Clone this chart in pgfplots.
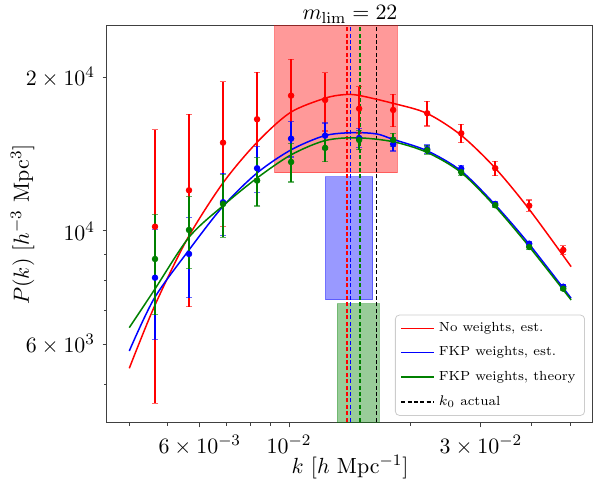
\documentclass[border=0pt,11pt]{standalone}
\usepackage{pgfplots}
\usepackage{pgfplotstable}
\pgfplotsset{compat=1.18}
\definecolor{mplgreen}{RGB}{0,128,0}

% k, P(k), 1-sigma
\pgfplotstableread{
k P err
0.004642 10196 5600
0.005640 12012 4900
0.006853 14888 4700
0.008328 16541 3905
0.010118 18403 3270
0.012294 18048 2360
0.014938 17352 1800
0.018152 17251 1250
0.022056 16995 950
0.026800 15528 645
0.032563 13268 430
0.039567 11207 290
0.048077 9179 170
}\nowts

\pgfplotstableread{
k P err
0.004642 8100 1965
0.005640 9016 1615
0.006853 11383 1595
0.008328 13266 1360
0.010118 15158 1200
0.012294 15365 905
0.014938 15205 640
0.018152 14785 450
0.022056 14455 280
0.026800 13243 200
0.032563 11294 130
0.039567 9443 100
0.048077 7780 80
}\fkpest

\pgfplotstableread{
k P err
0.004642 8814 1955
0.005640 10045 1615
0.006853 11294 1580
0.008328 12545 1355
0.010118 13646 1180
0.012294 14539 870
0.014938 15069 640
0.018152 15069 450
0.022056 14389 270
0.026800 13030 195
0.032563 11228 125
0.039567 9305 95
0.048077 7710 75
}\fkpth

\pgfplotsset{short line legend/.style={legend image code/.code={\draw[#1] (0pt,0pt) -- (16.5pt,0pt);}}}

\begin{document}
\begin{tikzpicture}
\begin{axis}[
  name=ax,
  scale only axis,
  width=243pt, height=198.5pt,
  xmode=log, ymode=log,
  xmin=0.003526, xmax=0.0570,
  ymin=4210, ymax=25185,
  xtick={0.006,0.01,0.03},
  xticklabels={$6\times10^{-3}$,$10^{-2}$,$3\times10^{-2}$},
  minor xtick={0.004,0.005,0.007,0.008,0.009,0.02,0.04,0.05},
  ytick={6000,10000,20000},
  yticklabels={$6\times10^{3}$,$10^{4}$,$2\times10^{4}$},
  minor ytick={5000,7000,8000,9000},
  tick align=outside, tick pos=left,
  major tick length=2.2pt, minor tick length=1.4pt,
  axis line style={black!75, line width=0.5pt},
  tick style={black!75, line width=0.5pt},
  title={$m_{\rm lim} = 22$},
  title style={at={(0.5,1)}, anchor=base, yshift=-3pt},
  xlabel={$k$ [$h$ Mpc$^{-1}$]},
  ylabel={$P(k)$ [$h^{-3}$ Mpc$^3$]},
  xlabel style={at={(axis description cs:0.5,0)}, anchor=base, yshift=-25.2pt},
  ylabel style={at={(axis description cs:-0.1605,0.5)}, anchor=base},
  legend style={at={(axis description cs:0.9835,0.018)}, anchor=south east,
    draw=black!20, rounded corners=2pt, fill=white, fill opacity=0.8, text opacity=1,
    font=\fontsize{6.6}{7.9}\selectfont, row sep=2pt, inner xsep=2.5pt, inner ysep=1.5pt},
  legend cell align=left,
  short line legend,
]
\addlegendimage{red, line width=0.75pt}
\addlegendentry{No weights, est.}
\addlegendimage{blue, line width=0.75pt}
\addlegendentry{FKP weights, est.}
\addlegendimage{mplgreen, line width=0.75pt}
\addlegendentry{FKP weights, theory}
\addlegendimage{black, line width=0.6pt, dash pattern=on 2pt off 1.2pt}
\addlegendentry{$k_0$ actual}

% k0 ranges
\addplot[forget plot, draw=red, draw opacity=0.4, fill=red, fill opacity=0.4]
  coordinates {(0.009214,12995) (0.018596,12995) (0.018596,30000) (0.009214,30000) (0.009214,12995)};
\addplot[forget plot, draw=blue, draw opacity=0.4, fill=blue, fill opacity=0.4]
  coordinates {(0.012311,7332) (0.016151,7332) (0.016151,12764) (0.012311,12764) (0.012311,7332)};
\addplot[forget plot, draw=mplgreen, draw opacity=0.4, fill=mplgreen, fill opacity=0.4]
  coordinates {(0.013187,4000) (0.016746,4000) (0.016746,7202) (0.013187,7202) (0.013187,4000)};

% k0 lines
\addplot[forget plot, red, line width=0.6pt, dash pattern=on 2pt off 1.2pt] coordinates {(0.013940,4000) (0.013940,30000)};
\addplot[forget plot, blue, line width=0.6pt, dash pattern=on 2pt off 1.2pt] coordinates {(0.014207,4000) (0.014207,30000)};
\addplot[forget plot, mplgreen, line width=0.6pt, dash pattern=on 2pt off 1.2pt] coordinates {(0.015020,4000) (0.015020,30000)};
\addplot[forget plot, black, line width=0.6pt, dash pattern=on 2pt off 1.2pt] coordinates {(0.016491,4000) (0.016491,30000)};

% fits
\addplot[forget plot, red, line width=0.75pt, smooth] coordinates {
(0.004006,5386) (0.004623,7111) (0.005566,9603) (0.006841,12396) (0.008311,14888)
(0.010058,17040) (0.012268,18180) (0.013653,18478) (0.014872,18430) (0.018113,17780)
(0.022003,16995) (0.026736,15411) (0.032411,13326) (0.039387,11076) (0.050292,8514)};
\addplot[forget plot, blue, line width=0.75pt, smooth] coordinates {
(0.004006,5824) (0.004623,7385) (0.005640,9179) (0.006841,11157) (0.008311,12970)
(0.010098,14401) (0.012268,15365) (0.014454,15575) (0.016526,15482) (0.018113,15118)
(0.022003,14362) (0.026736,13122) (0.032411,11294) (0.039387,9461) (0.050292,7385)};
\addplot[forget plot, mplgreen, line width=0.75pt, smooth] coordinates {
(0.004006,6469) (0.004623,7665) (0.005640,9720) (0.006841,11193) (0.008311,12681)
(0.010098,14080) (0.012268,15022) (0.014737,15219) (0.018113,14955) (0.022003,14256)
(0.026736,13030) (0.032411,11207) (0.039387,9359) (0.050292,7328)};

% measurements
\addplot[forget plot, red, only marks, mark=*, mark size=1.4pt,
  error bars/.cd, y dir=both, y explicit, error bar style={line width=1pt},
  error mark options={rotate=90, red, mark size=1.6pt, line width=0.6pt, opacity=0.6}]
  table[x=k, y=P, y error=err] {\nowts};
\addplot[forget plot, blue, only marks, mark=*, mark size=1.4pt,
  error bars/.cd, y dir=both, y explicit, error bar style={line width=1pt},
  error mark options={rotate=90, blue, mark size=1.6pt, line width=0.6pt, opacity=0.6}]
  table[x=k, y=P, y error=err] {\fkpest};
\addplot[forget plot, mplgreen, only marks, mark=*, mark size=1.4pt,
  error bars/.cd, y dir=both, y explicit, error bar style={line width=1pt},
  error mark options={rotate=90, mplgreen, mark size=1.6pt, line width=0.6pt, opacity=0.6}]
  table[x=k, y=P, y error=err] {\fkpth};
\end{axis}
\pgfresetboundingbox
\path ([xshift=-53.5pt,yshift=-31pt]ax.south west) rectangle ([xshift=3pt,yshift=13pt]ax.north east);
\end{tikzpicture}
\end{document}
